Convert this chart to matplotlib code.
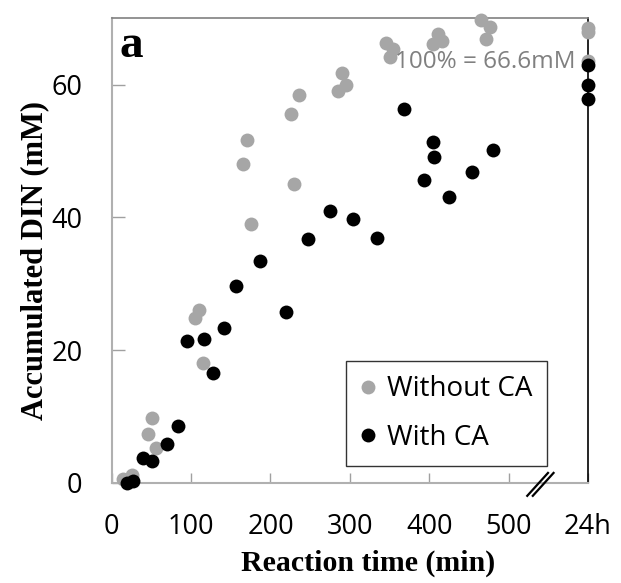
import matplotlib
matplotlib.use("Agg")
import matplotlib.pyplot as plt
from matplotlib.lines import Line2D

# reaction time (min) and accumulated DIN (mM); x = 600 stands for the 24h sample
t_without = [14.6, 25.2, 46.1, 50.4, 55.8, 105, 110.4, 115.4, 165, 170, 175.5,
             225.5, 230, 236, 284.7, 290.6, 295.2, 345.6, 350.6, 354.8,
             405.2, 410.7, 415.8, 465.8, 471.2, 476.6, 600, 600, 600]
din_without = [0.5, 1.2, 7.3, 9.8, 5.2, 24.8, 26.1, 18.1, 48.1, 51.6, 39.0,
               55.6, 45.0, 58.4, 59.0, 61.7, 59.9, 66.3, 64.2, 65.3,
               66.2, 67.7, 66.6, 69.8, 66.9, 68.7, 68.5, 67.9, 63.5]

t_with = [18.9, 27.2, 39.9, 50.4, 69.3, 84, 94.5, 116.7, 128, 141.5, 156.6,
          186.5, 219.6, 247.7, 274.7, 303.6, 333.9, 368.7, 393.9, 404.4,
          406, 424.5, 454.4, 480.8, 600, 600, 600]
din_with = [0.0, 0.3, 3.7, 3.3, 5.8, 8.5, 21.3, 21.6, 16.6, 23.3, 29.6,
            33.4, 25.7, 36.7, 40.9, 39.7, 36.9, 56.4, 45.7, 51.4,
            49.1, 43.0, 46.9, 50.2, 62.9, 59.9, 57.9]

xticks = [0, 100, 200, 300, 400, 500, 600]
xticklabels = ["0", "100", "200", "300", "400", "500", "24h"]
yticks = [0, 20, 40, 60]
x_break = 540

gray = "#a6a6a6"
sans = ["Open Sans", "DejaVu Sans"]
serif = ["Liberation Serif", "DejaVu Serif"]

fig = plt.figure(figsize=(6.21, 5.83), dpi=100)
ax = fig.add_axes([0.1799, 0.172, 0.767, 0.7966])

ax.scatter(t_without, din_without, s=100, color=gray, linewidths=0,
           clip_on=False, zorder=3)
ax.scatter(t_with, din_with, s=100, color="black", linewidths=0,
           clip_on=False, zorder=4)

ax.set_xlim(0, 600)
ax.set_ylim(0, 70)
ax.set_xticks(xticks)
ax.set_xticklabels(xticklabels, family=sans, fontsize=19.5)
ax.set_yticks(yticks)
ax.set_yticklabels([str(v) for v in yticks], family=sans, fontsize=19.5)
ax.tick_params(axis="x", direction="in", length=7, width=1, color="#a0a0a0", pad=22)
ax.tick_params(axis="y", direction="in", length=9, width=1, color="#a0a0a0", pad=21)

for side in ["left", "bottom"]:
    ax.spines[side].set_color("#b0b0b0")
    ax.spines[side].set_linewidth(1.5)
ax.spines["top"].set_color("#808080")
ax.spines["top"].set_linewidth(1.2)
ax.spines["right"].set_color("black")
ax.spines["right"].set_linewidth(1.2)

# axis break marks
for dx in [-3.5, 3.5]:
    xb = x_break + dx
    ax.plot([xb - 14, xb + 14], [-2.1, 1.6], color="black", lw=1.6,
            clip_on=False, zorder=5, solid_capstyle="butt")

ax.text(0.017, 0.985, "a", transform=ax.transAxes, family=serif,
        fontweight="bold", fontsize=34, ha="left", va="top")
ax.text(0.973, 0.905, "100% = 66.6mM", transform=ax.transAxes, family=sans,
        fontsize=17.5, color="#808080", ha="right", va="center")

fig.text(368 / 621, 1 - 563 / 583, "Reaction time (min)", family=serif,
         fontweight="bold", fontsize=21.5, ha="center", va="center")
fig.text(35 / 621, 1 - 261 / 583, "Accumulated DIN (mM)", family=serif,
         fontweight="bold", fontsize=22, ha="center", va="center",
         rotation=90)

handles = [Line2D([], [], marker="o", ls="", color=gray, markersize=10, markeredgewidth=0),
           Line2D([], [], marker="o", ls="", color="black", markersize=10, markeredgewidth=0)]
leg = ax.legend(handles, ["Without CA", "With CA"], loc="lower right",
                bbox_to_anchor=(0.913, 0.036), prop={"family": sans, "size": 20},
                frameon=True, fancybox=False, edgecolor="black",
                handlelength=0.6, handletextpad=0.4, labelspacing=0.75,
                borderpad=0.5, borderaxespad=0)
leg.get_frame().set_linewidth(1.0)

plt.savefig("out.png", dpi=100)
plt.close()
